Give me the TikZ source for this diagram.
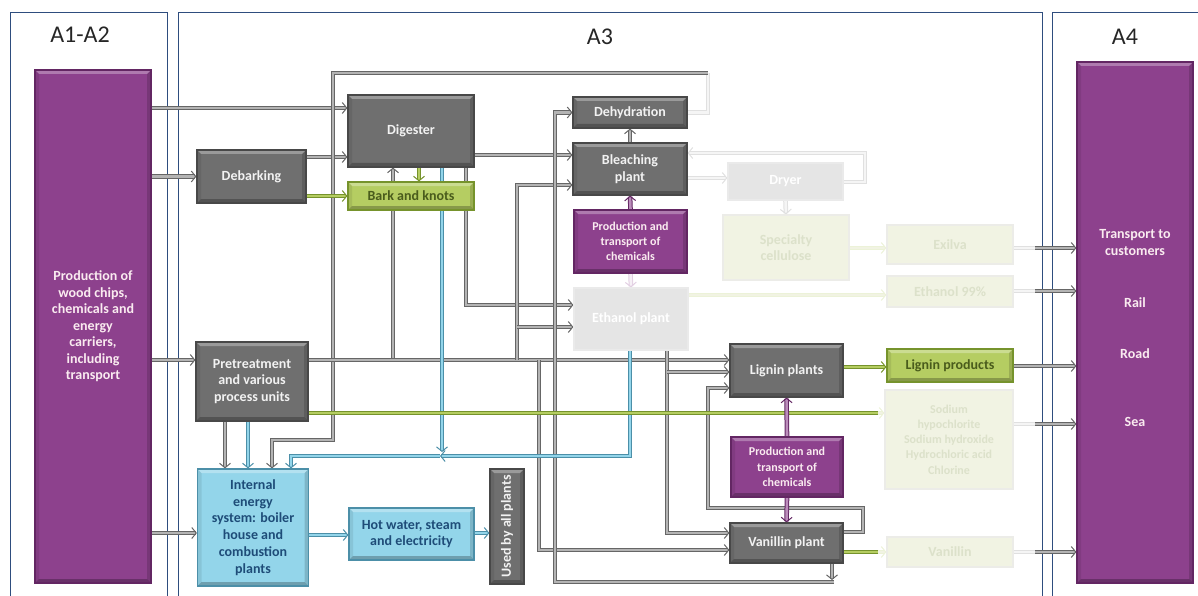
\documentclass[tikz,border=0pt]{standalone}
\usepackage{fontspec}
\setmainfont{Carlito}
\usepackage{graphicx}
\usetikzlibrary{arrows.meta,backgrounds}
\definecolor{purpleBox}{HTML}{8D418D}
\definecolor{purpleLine}{HTML}{632663}
\definecolor{grayBox}{HTML}{6F6F6F}
\definecolor{grayLine}{HTML}{484848}
\definecolor{greenBox}{HTML}{B5CD62}
\definecolor{greenLine}{HTML}{76932C}
\definecolor{greenText}{HTML}{4A5C1C}
\definecolor{blueBox}{HTML}{93D5EA}
\definecolor{blueLine}{HTML}{4C8FA8}
\definecolor{blueText}{HTML}{1E4C78}
\definecolor{fadeBox}{HTML}{E5E5E5}
\definecolor{paleBox}{HTML}{F1F3E3}
\definecolor{paleText}{HTML}{DCE1CA}
\definecolor{frameLine}{HTML}{2E4D7E}
\definecolor{pipeD}{HTML}{666666}
\definecolor{pipeL}{HTML}{B4B4B4}

\begin{document}
\begin{tikzpicture}[x=1pt,y=-1pt,
	every node/.style={font=\bfseries\fontsize{14}{16.5}\selectfont,align=center,inner sep=1pt,line width=1.2pt},
	bevel/.style={path picture={
		\fill[white,opacity=.3] (path picture bounding box.north west) -- (path picture bounding box.north east) -- ([shift={(-4pt,-4pt)}]path picture bounding box.north east) -- ([shift={(4pt,-4pt)}]path picture bounding box.north west) -- cycle;
		\fill[black,opacity=.25] (path picture bounding box.south west) -- (path picture bounding box.south east) -- ([shift={(-4pt,4pt)}]path picture bounding box.south east) -- ([shift={(4pt,4pt)}]path picture bounding box.south west) -- cycle;
		\fill[black,opacity=.15] (path picture bounding box.north east) -- (path picture bounding box.south east) -- ([shift={(-4pt,4pt)}]path picture bounding box.south east) -- ([shift={(-4pt,-4pt)}]path picture bounding box.north east) -- cycle;
		\fill[black,opacity=.08] (path picture bounding box.north west) -- (path picture bounding box.south west) -- ([shift={(4pt,4pt)}]path picture bounding box.south west) -- ([shift={(4pt,-4pt)}]path picture bounding box.north west) -- cycle;}},
	graybox/.style={bevel,draw=grayLine,fill=grayBox,text=white!90!gray},
	purplebox/.style={bevel,draw=purpleLine,fill=purpleBox,text=white!92!purple},
	greenbox/.style={bevel,draw=greenLine,fill=greenBox,text=greenText},
	bluebox/.style={bevel,draw=blueLine,fill=blueBox,text=blueText},
	fadebox/.style={draw=fadeBox!80,fill=fadeBox,text=white},
	palebox/.style={draw=paleBox!70!gray!40,fill=paleBox,text=paleText},
	chem/.style={font=\bfseries\fontsize{12}{15.3}\selectfont},
	title/.style={font=\fontsize{24}{28}\selectfont,text=black!85},
	frame/.style={draw=frameLine,line width=0.8pt},
	pipe/.style={draw=pipeD,double=pipeL,double distance=2.6pt,line width=1pt},
	bpipe/.style={draw=blueLine,double=blueBox,double distance=2.6pt,line width=1pt},
	gpipe/.style={draw=greenLine,double=greenBox,double distance=2.6pt,line width=1pt},
	ppipe/.style={draw=purpleLine,double=purpleBox!60,double distance=2.6pt,line width=1pt},
	fpipe/.style={draw=black!12,double=black!4,double distance=2.6pt,line width=1pt},
	fgpipe/.style={draw=greenBox!25,double=paleBox,double distance=2.6pt,line width=1pt},
	fppipe/.style={draw=purpleBox!25,double=purpleBox!8,double distance=2.6pt,line width=1pt},
	>={Straight Barb[length=4.5pt,width=11pt]}
]
	\useasboundingbox (0,0) rectangle (1198,596);

	\node[title] (t12) at (80,35) {A1-A2};
	\node[title] (t3) at (600,37) {A3};
	\node[title] (t4) at (1125,37) {A4};

	\node[purplebox,minimum width=116,minimum height=513] (src) at (93,326.5) {Production of\\wood chips,\\chemicals and\\energy\\carriers,\\including\\transport};
	\node[purplebox,minimum width=116,minimum height=521] (dest) at (1135,322.5) {\mbox{}\\[4pt]Transport to\\customers\\[36pt]Rail\\[34pt]Road\\[52pt]Sea};

	\node[graybox,minimum width=126,minimum height=72] (dig) at (411,131) {Digester};
	\node[graybox,minimum width=109,minimum height=53] (dbk) at (251.5,176.5) {Debarking};
	\node[greenbox,minimum width=126,minimum height=28] (bark) at (411,196) {Bark and knots};
	\node[graybox,minimum width=114,minimum height=31] (dh) at (630,112.5) {Dehydration};
	\node[graybox,minimum width=114,minimum height=52] (bl) at (630,169) {Bleaching\\plant};
	\node[purplebox,chem,minimum width=113,minimum height=63] (chem1) at (630.5,241.5) {Production and\\transport of\\chemicals};
	\node[fadebox,minimum width=114,minimum height=62] (eth) at (631,319) {Ethanol plant};
	\node[fadebox,minimum width=115,minimum height=37] (dry) at (785.5,181.5) {Dryer};
	\node[palebox,minimum width=126,minimum height=65] (spc) at (786,247.5) {Specialty\\cellulose};
	\node[palebox,minimum width=126,minimum height=39] (exi) at (950,244.5) {Exilva};
	\node[palebox,minimum width=126,minimum height=31] (e99) at (950,291.5) {Ethanol 99\%};

	\node[graybox,minimum width=112,minimum height=79] (pre) at (252,381.5) {Pretreatment\\and various\\process units};
	\node[bluebox,minimum width=111,minimum height=117,font=\bfseries\fontsize{14}{16.7}\selectfont] (ies) at (253,527.5) {Internal\\energy\\system: boiler\\house and\\combustion\\plants};
	\node[bluebox,minimum width=125,minimum height=52] (hw) at (411.5,534) {Hot water, steam\\and electricity};
	\node[graybox,minimum width=34,minimum height=115] (used) at (507,526.5) {\rotatebox{90}{Used by all plants}};

	\node[graybox,minimum width=113,minimum height=53] (lp) at (786.5,370.5) {Lignin plants};
	\node[greenbox,minimum width=126,minimum height=33] (lpr) at (950,365.5) {Lignin products};
	\node[palebox,chem,minimum width=128,minimum height=99] (sod) at (949,439.5) {Sodium\\hypochlorite\\Sodium hydroxide\\Hydrochloric acid\\Chlorine};
	\node[purplebox,chem,minimum width=112,minimum height=60] (chem2) at (787,467) {Production and\\transport of\\chemicals};
	\node[graybox,minimum width=113,minimum height=40] (vp) at (786.5,543) {Vanillin plant};
	\node[palebox,minimum width=126,minimum height=30] (van) at (950,552) {Vanillin};

	\begin{scope}[on background layer]
		\draw[frame] (10,12) rectangle (167,620);
		\draw[frame] (178,12) rectangle (1042,620);
		\draw[frame] (1052,12) rectangle (1220,620);

		\draw[pipe,->] (src.east |- 0,108) -- (dig.west |- 0,108);
		\draw[pipe,->] (src.east |- dbk.west) -- (dbk.west);
		\draw[pipe,->] (src.east |- 0,360) -- (pre.west |- 0,360);
		\draw[pipe,->] (src.east |- 0,533) -- (ies.west |- 0,533);
		\draw[pipe,->] (dbk.east |- 0,157) -- (dig.west |- 0,157);

		\draw[pipe,->] (393,360) -- (393,0 |- dig.south);
		\draw[pipe,->] (466,0 |- dig.south) |- (eth.west |- 0,305);
		\draw[pipe,->] (dig.east |- 0,155) -- (bl.west |- 0,155);
		\draw[fpipe] (dh.east) -| (708,73);
		\draw[pipe,->] (708,73) -| (333,440) -| (272,0 |- ies.north);
		\draw[pipe,->] (bl.north) -- (dh.south);

		\draw[pipe,->] (pre.east |- 0,360) -- (lp.west |- 0,360);
		\draw[pipe,->] (225,0 |- pre.south) -- (225,0 |- ies.north);
		\draw[pipe,->] (517,360) |- (bl.west |- 0,185);
		\draw[pipe,->] (517,327) -- (eth.west |- 0,327);
		\draw[pipe,->] (539,360) |- (vp.west |- 0,550);
		\draw[pipe,->] (834,582) -| (555,0 |- dh.west) -- (dh.west);
		\draw[pipe,->] (832,0 |- vp.south) -- (832,580);
		\draw[pipe,->] (667,0 |- eth.south) |- (vp.west |- 0,533);
		\draw[pipe,->] (667,372) -- (lp.west |- 0,372);
		\draw[pipe,->] (vp.east |- 0,532) -| (863,508) -| (708,388) -- (lp.west |- 0,388);

		\draw[bpipe,->] (442,0 |- dig.south) -- (442,452);
		\draw[bpipe,->] (248,0 |- pre.south) -- (248,0 |- ies.north);
		\draw[bpipe,->] (630,0 |- eth.south) |- (440,456);
		\draw[bpipe,->] (440,456) -| (291,0 |- ies.north);
		\draw[bpipe,->] (ies.east |- 0,535) -- (hw.west |- 0,535);
		\draw[bpipe,->] (hw.east |- 0,533) -- (used.west |- 0,533);

		\draw[gpipe,->] (dbk.east |- bark.west) -- (bark.west);
		\draw[gpipe,->] (419,0 |- dig.south) -- (419,0 |- bark.north);
		\draw[gpipe] (pre.east |- 0,413) -- (878,413);
		\draw[fgpipe,->] (878,413) -- (sod.west |- 0,413);
		\draw[gpipe,->] (lp.east |- 0,367) -- (lpr.west |- 0,367);
		\draw[gpipe] (vp.east |- 0,552) -- (878,552);
		\draw[fgpipe,->] (878,552) -- (van.west |- 0,552);

		\draw[ppipe,->] (chem1.north) -- (bl.south);
		\draw[fppipe,->] (chem1.south) -- (eth.north);
		\draw[ppipe,->] (chem2.north) -- (lp.south);
		\draw[ppipe,->] (chem2.south) -- (vp.north);

		\draw[fpipe,->] (bl.east |- 0,178) -- (dry.west |- 0,178);
		\draw[fpipe,->] (dry.east |- 0,182) -| (865,153) -- (bl.east |- 0,153);
		\draw[fpipe,->] (dry.south) -- (spc.north);
		\draw[fgpipe,->] (spc.east |- 0,248) -- (exi.west |- 0,248);
		\draw[fgpipe,->] (eth.east |- 0,295) -- (e99.west |- 0,295);

		\draw[fpipe] (exi.east |- 0,248) -- (1035,248);
		\draw[pipe,->] (1035,248) -- (dest.west |- 0,248);
		\draw[fpipe] (e99.east |- 0,291) -- (1035,291);
		\draw[pipe,->] (1035,291) -- (dest.west |- 0,291);
		\draw[pipe,->] (lpr.east |- 0,366) -- (dest.west |- 0,366);
		\draw[fpipe] (sod.east |- 0,424) -- (1035,424);
		\draw[pipe,->] (1035,424) -- (dest.west |- 0,424);
		\draw[fpipe] (van.east |- 0,552) -- (1035,552);
		\draw[pipe,->] (1035,552) -- (dest.west |- 0,552);
	\end{scope}
\end{tikzpicture}
\end{document}
